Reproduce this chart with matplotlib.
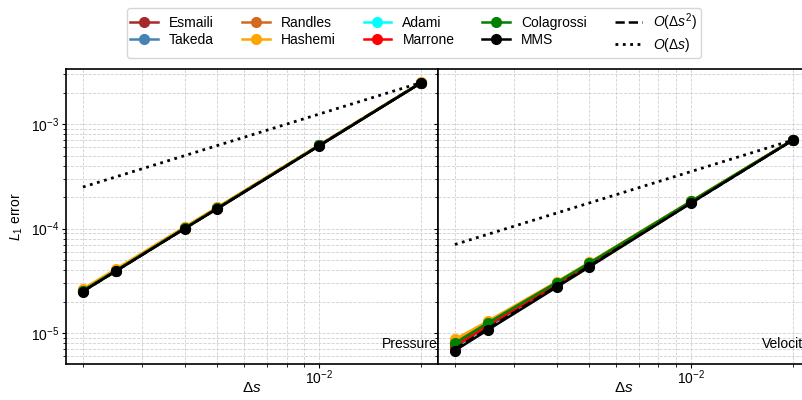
import matplotlib
matplotlib.use("Agg")
import matplotlib.pyplot as plt
from matplotlib.ticker import NullFormatter

plt.rcParams['font.family'] = ['Liberation Sans', 'DejaVu Sans']
plt.rcParams['mathtext.fontset'] = 'custom'
plt.rcParams['mathtext.rm'] = 'Liberation Sans'
plt.rcParams['mathtext.it'] = 'Liberation Sans:italic'
plt.rcParams['font.size'] = 10

# grid spacings
ds = [0.002, 0.0025, 0.004, 0.005, 0.01, 0.02]

names = ["Esmaili", "Takeda", "Randles", "Hashemi", "Adami", "Marrone", "Colagrossi", "MMS"]
colors = ["#a52a2a", "#4682b4", "#d2691e", "#ffa500", "#00ffff", "#ff0000", "#008000", "#000000"]

# pressure L1 error
p_esmaili = [2.55e-5, 3.95e-5, 1.01e-4, 1.57e-4, 6.25e-4, 2.49e-3]
p_takeda = [2.55e-5, 3.95e-5, 1.01e-4, 1.57e-4, 6.25e-4, 2.49e-3]
p_randles = [2.6e-5, 4.0e-5, 1.02e-4, 1.59e-4, 6.3e-4, 2.5e-3]
p_hashemi = [2.65e-5, 4.1e-5, 1.04e-4, 1.61e-4, 6.35e-4, 2.51e-3]
p_adami = [2.55e-5, 3.95e-5, 1.01e-4, 1.57e-4, 6.25e-4, 2.49e-3]
p_marrone = [2.55e-5, 3.95e-5, 1.01e-4, 1.57e-4, 6.25e-4, 2.49e-3]
p_colagrossi = [2.55e-5, 3.95e-5, 1.01e-4, 1.57e-4, 6.25e-4, 2.49e-3]
p_mms = [2.5e-5, 3.9e-5, 1.0e-4, 1.55e-4, 6.2e-4, 2.48e-3]

# velocity L1 error
v_esmaili = [7.6e-6, 1.2e-5, 2.95e-5, 4.55e-5, 1.8e-4, 7.08e-4]
v_takeda = [7.3e-6, 1.15e-5, 2.9e-5, 4.45e-5, 1.79e-4, 7.07e-4]
v_randles = [8.3e-6, 1.27e-5, 3.05e-5, 4.7e-5, 1.83e-4, 7.1e-4]
v_hashemi = [8.7e-6, 1.3e-5, 3.1e-5, 4.75e-5, 1.84e-4, 7.1e-4]
v_adami = [7.1e-6, 1.12e-5, 2.85e-5, 4.4e-5, 1.78e-4, 7.06e-4]
v_marrone = [7.4e-6, 1.17e-5, 2.9e-5, 4.5e-5, 1.8e-4, 7.08e-4]
v_colagrossi = [8.0e-6, 1.25e-5, 3.05e-5, 4.7e-5, 1.83e-4, 7.1e-4]
v_mms = [6.8e-6, 1.07e-5, 2.75e-5, 4.3e-5, 1.76e-4, 7.05e-4]

pressure = [p_esmaili, p_takeda, p_randles, p_hashemi, p_adami, p_marrone, p_colagrossi, p_mms]
velocity = [v_esmaili, v_takeda, v_randles, v_hashemi, v_adami, v_marrone, v_colagrossi, v_mms]

# reference slopes
ref_x = [0.002, 0.02]
p_order2 = [2.5e-5, 2.5e-3]
p_order1 = [2.5e-4, 2.5e-3]
v_order2 = [7.05e-6, 7.05e-4]
v_order1 = [7.05e-5, 7.05e-4]

fig = plt.figure(figsize=(8.02, 4.0), dpi=100)
ax1 = fig.add_axes([0.0823, 0.09, 0.4638, 0.7375])
ax2 = fig.add_axes([0.5461, 0.09, 0.4638, 0.7375], sharey=ax1)

panels = [(ax1, pressure, p_order2, p_order1, "Pressure"),
          (ax2, velocity, v_order2, v_order1, "Velocity")]

for ax, data, o2, o1, label in panels:
    for name, c, y in zip(names, colors, data):
        ax.plot(ds, y, "o-", color=c, label=name, markersize=7, linewidth=1.8)
    ax.plot(ref_x, o2, "k--", linewidth=1.8, label=r"$O(\Delta s^2)$")
    ax.plot(ref_x, o1, "k:", linewidth=2.0, label=r"$O(\Delta s)$")
    ax.set_xscale("log")
    ax.set_yscale("log")
    ax.grid(True, which="both", linestyle="--", color="#d0d0d0", linewidth=0.6)
    ax.xaxis.set_minor_formatter(NullFormatter())
    ax.tick_params(which="major", length=3, width=0.8, pad=2)
    ax.tick_params(which="minor", length=2, width=0.6)
    ax.tick_params(axis="x", which="major", pad=0.5)
    ax.set_xlabel(r"$\Delta s$", fontsize=11)
    ax.xaxis.set_label_coords(0.5, -0.058)
    ax.text(1.0, 0.045, label, transform=ax.transAxes, ha="right", va="bottom", fontsize=10)
    for s in ax.spines.values():
        s.set_linewidth(1.2)

ax1.set_ylabel(r"$L_1$ error")
ax2.tick_params(labelleft=False)

handles, labels = ax1.get_legend_handles_labels()
fig.legend(handles, labels, loc="upper center", bbox_to_anchor=(0.516, 0.998), ncol=5,
           frameon=True, fontsize=10, labelspacing=0.25, borderpad=0.25)

fig.savefig("out.png", dpi=100)
